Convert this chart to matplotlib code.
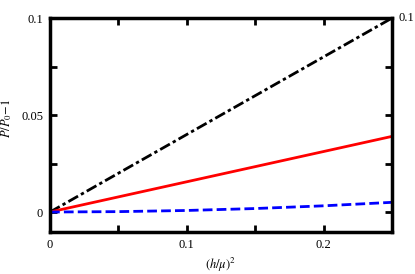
import numpy as np
import matplotlib
matplotlib.use("Agg")
import matplotlib.pyplot as plt

plt.rcParams['font.family'] = ['Liberation Serif', 'DejaVu Serif']
plt.rcParams['mathtext.fontset'] = 'stix'

# data
x = [0.0, 0.05, 0.1, 0.15, 0.2, 0.25]
black = [0.0, 0.02, 0.04, 0.06, 0.08, 0.1]
red = [0.0, 0.0078, 0.0156, 0.0234, 0.0312, 0.039]
blue = [0.0, 0.0002, 0.0008, 0.0018, 0.0032, 0.005]

fig = plt.figure(figsize=(4.15, 2.74), dpi=100)
ax = fig.add_axes([0.1205, 0.1533, 0.8241, 0.7807])

ax.plot(x, black, color='k', lw=2.0, ls=(0, (4, 1.2, 1.2, 1.2)))
ax.plot(x, red, color='red', lw=2.0, ls='-')
ax.plot(x, blue, color='blue', lw=2.0, ls=(0, (3.5, 1.5)))

ax.set_xlim(0, 0.25)
ax.set_ylim(-0.0103, 0.1)

ax.set_xticks([0, 0.05, 0.1, 0.15, 0.2])
ax.set_xticklabels(['0', '', '0.1', '', '0.2'])
ax.set_yticks([0, 0.025, 0.05, 0.075, 0.1])
ax.set_yticklabels(['0', '', '0.05', '', '0.1'])

ax.tick_params(direction='in', length=5, width=2, top=True, right=True,
               labelsize=9, pad=5)

for s in ax.spines.values():
    s.set_linewidth(2.5)

# right-hand label at the top only
ax.text(1.02, 1.0, '0.1', transform=ax.transAxes, fontsize=9,
        ha='left', va='center')

ax.set_xlabel(r'$(h/\mu)^2$', fontsize=9)
ax.xaxis.set_label_coords(0.5, -0.11)
ax.set_ylabel(r'$P/P_0{-}\mathit{1}$', fontsize=9)
ax.yaxis.set_label_coords(-0.105, 0.53)

fig.savefig('out.png', dpi=100)
